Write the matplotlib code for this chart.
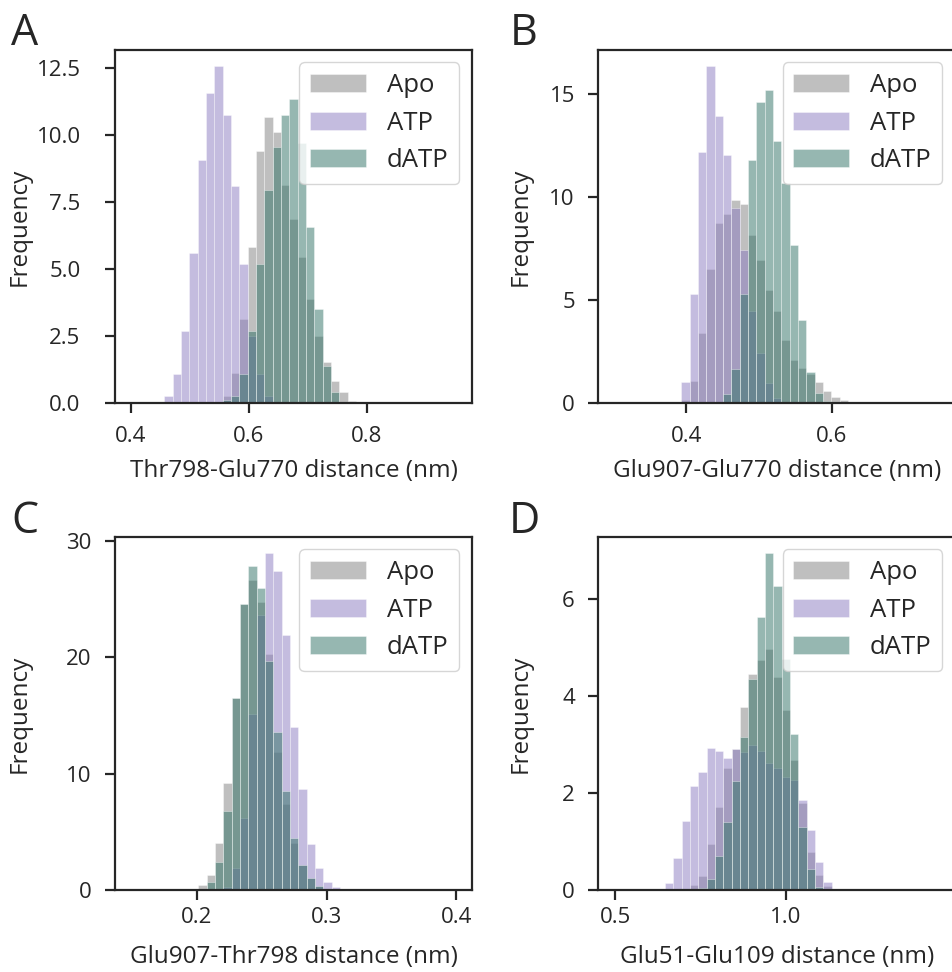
import numpy as np
import matplotlib
matplotlib.use('Agg')
import matplotlib.pyplot as plt

plt.rcParams['font.family'] = ['Open Sans', 'DejaVu Sans']
plt.rcParams['text.color'] = '#262626'
plt.rcParams['axes.labelcolor'] = '#262626'
plt.rcParams['xtick.color'] = '#262626'
plt.rcParams['ytick.color'] = '#262626'

labels = ['Apo', 'ATP', 'dATP']
colors = ['#808080', '#8b7bc0', '#2f7165']

# panel A: Thr798-Glu770
a_bin0, a_binw = 0.4429, 0.014124
a_apo = [0, 0, 0, 0, 0, 0, 0, 0, 0.29, 1.12, 3.15, 5.83, 9.42, 10.69, 10.11, 8.15, 6.88, 5.46, 3.89, 2.5, 1.55, 0.84, 0.43, 0.1, 0]
a_atp = [0.06, 0.27, 1.08, 2.69, 5.62, 9.09, 11.56, 12.56, 10.75, 8.09, 5.21, 2.5, 1.08, 0.29, 0.06, 0, 0, 0, 0, 0, 0, 0, 0, 0, 0]
a_datp = [0, 0, 0, 0, 0, 0, 0, 0, 0.12, 0.29, 1.08, 2.69, 5.21, 7.94, 9.57, 10.75, 11.35, 9.71, 6.57, 3.5, 1.41, 0.43, 0.06, 0, 0]

# panel B: Glu907-Glu770
b_bin0, b_binw = 0.3815, 0.011494
b_apo = [0.03, 0.16, 1.08, 3.39, 6.5, 8.76, 9.16, 9.84, 9.68, 8.15, 6.94, 5.48, 4.47, 3.06, 2.1, 1.7, 1.42, 1.02, 0.61, 0.32, 0.16]
b_atp = [0.08, 1.05, 5.32, 12.18, 16.34, 13.95, 12.05, 9.48, 7.42, 4.47, 2.45, 0.97, 0.24, 0.05, 0, 0, 0, 0, 0, 0, 0]
b_datp = [0, 0, 0, 0, 0, 0.08, 0.44, 1.65, 5.32, 11.81, 14.6, 15.19, 12.74, 10.69, 7.66, 4.03, 1.5, 0.5, 0.1, 0, 0]

# panel C: Glu907-Thr798
c_bin0, c_binw = 0.19485, 0.00641
c_apo = [0.09, 0.43, 1.29, 4.04, 9.19, 16.5, 24.57, 26.6, 24.7, 20.3, 11.9, 7.39, 4.04, 2.15, 1.03, 0.37, 0.14, 0]
c_atp = [0, 0, 0, 0, 0.29, 1.89, 6.19, 15.12, 23.6, 28.9, 27.4, 21.9, 13.97, 8.73, 3.95, 1.89, 0.72, 0.31]
c_datp = [0, 0.1, 0.72, 2.43, 6.82, 16.5, 24.57, 27.8, 25.9, 19.7, 13.6, 8.48, 4.52, 2.15, 1.03, 0.37, 0.14, 0]

# panel D: Glu51-Glu109
d_bin0, d_binw = 0.6221, 0.02442
d_apo = [0, 0, 0, 0, 0.12, 0.3, 0.96, 1.72, 2.51, 2.92, 3.78, 4.45, 4.74, 4.97, 4.4, 3.71, 2.68, 1.8, 0.8, 0.32, 0.08, 0.03]
d_atp = [0.03, 0.15, 0.67, 1.42, 2.15, 2.43, 2.93, 2.87, 2.73, 2.92, 2.84, 2.99, 2.87, 2.63, 2.51, 2.34, 2.27, 1.86, 1.25, 0.58, 0.17, 0]
d_datp = [0, 0, 0, 0, 0, 0.05, 0.24, 0.7, 1.4, 2.25, 3.15, 4.36, 5.62, 6.94, 6.27, 4.76, 3.22, 1.31, 0.43, 0.07, 0, 0]

panels = [
    ('A', 'Thr798-Glu770 distance (nm)', a_bin0, a_binw, [a_apo, a_atp, a_datp], (0.3742, 0.978), [0.4, 0.6, 0.8]),
    ('B', 'Glu907-Glu770 distance (nm)', b_bin0, b_binw, [b_apo, b_atp, b_datp], (0.2788, 0.770), [0.4, 0.6]),
    ('C', 'Glu907-Thr798 distance (nm)', c_bin0, c_binw, [c_apo, c_atp, c_datp], (0.1373, 0.4118), [0.2, 0.3, 0.4]),
    ('D', 'Glu51-Glu109 distance (nm)', d_bin0, d_binw, [d_apo, d_atp, d_datp], (0.451, 1.496), [0.5, 1.0]),
]
rects = [[0.121, 0.585, 0.374, 0.364], [0.628, 0.585, 0.374, 0.364],
         [0.121, 0.084, 0.374, 0.364], [0.628, 0.084, 0.374, 0.364]]
letter_xy = [(0.012, 0.954), (0.535, 0.954), (0.012, 0.452), (0.534, 0.452)]
y_ticks = [[0, 2.5, 5, 7.5, 10, 12.5], [0, 5, 10, 15], [0, 10, 20, 30], [0, 2, 4, 6]]
y_fmt = ['{:.1f}', '{:.0f}', '{:.0f}', '{:.0f}']
# per-panel tick pads and label positions (axes fraction)
ypads = [18, 10, 10, 10]
xpads = [9, 9, 5, 5]
ylab_x = [-0.235, -0.185, -0.235, -0.185]
xlab_y = [-0.156, -0.156, -0.155, -0.155]

fig = plt.figure(figsize=(9.53, 9.72), dpi=100)

for k, (letter, xlabel, b0, bw, series, xlim, xt) in enumerate(panels):
    ax = fig.add_axes(rects[k])
    n = len(series[0])
    edges = b0 + bw * np.arange(n + 1)
    for h, lab, col in zip(series, labels, colors):
        ax.hist(edges[:-1], bins=edges, weights=h, color=col, alpha=0.5,
                edgecolor='white', linewidth=0.5, label=lab)
    ax.set_xlim(xlim)
    ax.set_xticks(xt)
    ax.set_yticks(y_ticks[k])
    ax.set_yticklabels([y_fmt[k].format(v) for v in y_ticks[k]])
    ax.set_xlabel(xlabel, fontsize=17.5)
    ax.set_ylabel('Frequency', fontsize=17.5)
    ax.xaxis.set_label_coords(0.5, xlab_y[k])
    ax.yaxis.set_label_coords(ylab_x[k], 0.5)
    ax.tick_params(labelsize=16, length=7, width=1.6, direction='out')
    ax.tick_params(axis='y', pad=ypads[k])
    ax.tick_params(axis='x', pad=xpads[k])
    for sp in ax.spines.values():
        sp.set_linewidth(1.6)
        sp.set_color('#262626')
    ax.legend(loc='upper right', fontsize=18.5, handlelength=2.2)
    fig.text(letter_xy[k][0], letter_xy[k][1], letter, fontsize=31, va='baseline')

fig.savefig('out.png', dpi=100)
